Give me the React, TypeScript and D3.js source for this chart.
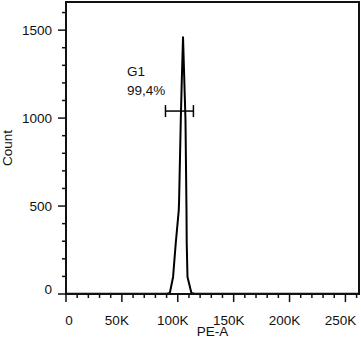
import React from 'react';
import * as d3 from 'd3';

// PE-A histogram, values (PE-A in channel units, count per bin)
const peA = [0, 90000, 92900, 95800, 98200, 100900, 101200, 102700, 103600, 104700, 106900, 107800, 108000, 108700, 112200, 115000, 262144];
const counts = [2, 2, 6, 97, 290, 477, 534, 989, 1216, 1460, 989, 477, 290, 97, 6, 2, 2];

const xMajor = [0, 50000, 100000, 150000, 200000, 250000];
const xLabels = ['0', '50K', '100K', '150K', '200K', '250K'];
const yMajor = [0, 500, 1000, 1500];

const gateName = 'G1';
const gatePct = '99,4%';
const gateRange = [89000, 114000];
const gateLevel = 1040;

const W = 361;
const H = 337;
const L = 66, R = 359, T = 2, B = 294;
const FONT = '"Liberation Sans", Arial, sans-serif';

export default function App() {
  const x = d3.scaleLinear().domain([0, 262144]).range([L, R]);
  const y = d3.scaleLinear().domain([0, 1660]).range([B, T]);

  const xMinor = d3.range(0, 262144, 10000).filter(v => v % 50000 !== 0);
  const yMinor = d3.range(0, 1660, 100).filter(v => v % 500 !== 0);

  const pts: [number, number][] = peA.map((v, i) => [v, counts[i]]);
  const line = d3.line<[number, number]>()
    .x(d => x(d[0]))
    .y(d => y(d[1]));

  const gy = y(gateLevel);

  return (
    <svg width={W} height={H} style={{position: 'fixed', left: 0, top: 0}} fontFamily={FONT}>
      <rect x={0} y={0} width={W} height={H} fill="#fff" />

      {/* histogram */}
      <path d={line(pts) || ''} fill="none" stroke="#000" strokeWidth={2} strokeLinejoin="round" />

      {/* frame */}
      <rect x={L} y={T} width={R - L} height={B - T} fill="none" stroke="#111" strokeWidth={2} />

      {/* y ticks */}
      {yMajor.map(v => (
        <g key={'ym' + v}>
          <line x1={L - 8} x2={L} y1={y(v)} y2={y(v)} stroke="#111" strokeWidth={1.5} />
          <text x={52} y={y(v) + (v === 0 ? 0 : 5)} textAnchor="end" fontSize={13.5} fill="#111">{v}</text>
        </g>
      ))}
      {yMinor.map(v => (
        <line key={'yn' + v} x1={L - 4} x2={L} y1={y(v)} y2={y(v)} stroke="#111" strokeWidth={1.5} />
      ))}

      {/* x ticks */}
      {xMajor.map((v, i) => (
        <g key={'xm' + v}>
          <line x1={x(v)} x2={x(v)} y1={B} y2={B + 8} stroke="#111" strokeWidth={1.5} />
          <text x={x(v) + (v === 0 ? 3 : -5)} y={325} textAnchor="middle" fontSize={13.5} fill="#111">{xLabels[i]}</text>
        </g>
      ))}
      {xMinor.map(v => (
        <line key={'xn' + v} x1={x(v)} x2={x(v)} y1={B} y2={B + 4} stroke="#111" strokeWidth={1.5} />
      ))}

      {/* axis titles */}
      <text x={(L + R) / 2} y={336} textAnchor="middle" fontSize={13.5} fill="#111">PE-A</text>
      <text transform="translate(12,148) rotate(-90)" textAnchor="middle" fontSize={13.5} fill="#111">Count</text>

      {/* gate */}
      <line x1={x(gateRange[0])} x2={x(gateRange[1])} y1={gy} y2={gy} stroke="#000" strokeWidth={1.5} />
      <line x1={x(gateRange[0])} x2={x(gateRange[0])} y1={gy - 6} y2={gy + 6} stroke="#000" strokeWidth={1.5} />
      <line x1={x(gateRange[1])} x2={x(gateRange[1])} y1={gy - 6} y2={gy + 6} stroke="#000" strokeWidth={1.5} />
      <text x={127} y={76} fontSize={13.5} fill="#111">{gateName}</text>
      <text x={127} y={95} fontSize={13.5} fill="#111">{gatePct}</text>
    </svg>
  );
}
